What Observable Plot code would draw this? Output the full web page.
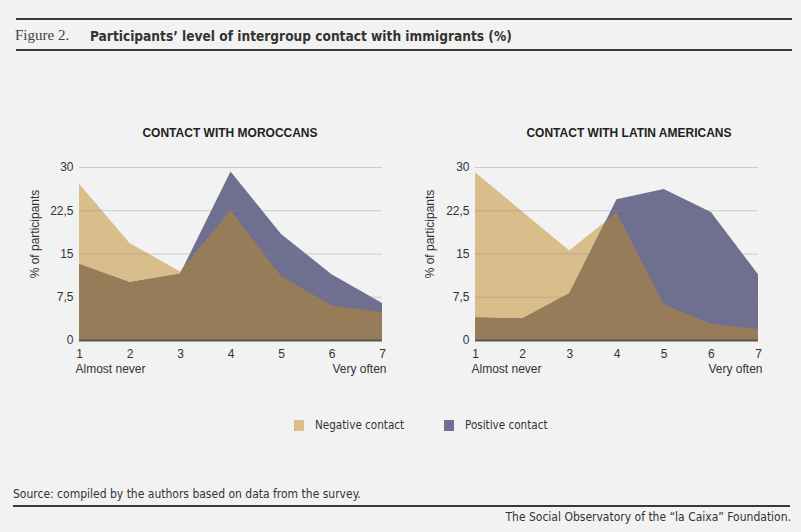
<!DOCTYPE html>
<html>
<head>
<meta charset="utf-8">
<script src="https://cdn.jsdelivr.net/npm/d3@7"></script>
<script src="https://cdn.jsdelivr.net/npm/@observablehq/plot@0.6"></script>
<style>
  html, body { margin: 0; padding: 0; background: #f2f2f2; }
  #wrap { position: relative; width: 801px; height: 532px; background: #f2f2f2; overflow: hidden; color: #333; }
  .abs { position: absolute; white-space: nowrap; }
  .narrow { font-family: "Liberation Sans Narrow", "DejaVu Sans Condensed", sans-serif; }
  .line { position: absolute; background: #3a3a3a; }
  .sub { font-family: "Liberation Sans", Arial, sans-serif; font-weight: bold; font-size: 12px; color: #222; transform: translateX(-50%); }
  .sw { position: absolute; width: 10px; height: 11px; }
</style>
</head>
<body>
<div id="wrap">
  <div class="line" style="left:16px; top:18px; width:776px; height:2px;"></div>
  <div class="abs" style="left:15px; top:27px; font-family:'Liberation Serif','DejaVu Serif',serif; font-size:15px; color:#444;">Figure 2.</div>
  <div class="abs narrow" style="left:90px; top:28px; font-size:13.6px; font-weight:bold; color:#333;">Participants’ level of intergroup contact with immigrants (%)</div>
  <div class="line" style="left:16px; top:49px; width:776px; height:2px;"></div>

  <div class="abs sub" style="left:230px; top:126px;">CONTACT WITH MOROCCANS</div>
  <div class="abs sub" style="left:629px; top:126px;">CONTACT WITH LATIN AMERICANS</div>

  <div id="c1" class="abs" style="left:0; top:150px;"></div>
  <div id="c2" class="abs" style="left:400px; top:150px;"></div>

  <div class="sw" style="left:294px; top:420px; background:#d9bd8a;"></div>
  <div class="abs narrow" style="left:315px; top:418px; font-size:11.6px; color:#333;">Negative contact</div>
  <div class="sw" style="left:444px; top:420px; background:#6f7090;"></div>
  <div class="abs narrow" style="left:465px; top:418px; font-size:11.6px; color:#333;">Positive contact</div>

  <div class="abs narrow" style="left:13px; top:487px; font-size:12px; color:#333;">Source: compiled by the authors based on data from the survey.</div>
  <div class="line" style="left:13px; top:505px; width:777px; height:2px;"></div>
  <div class="abs narrow" style="right:10px; top:510px; font-size:12px; color:#333;">The Social Observatory of the “la Caixa” Foundation.</div>
</div>
<script>
// ---- data ----
const levels = [1, 2, 3, 4, 5, 6, 7];
const yTicks = [0, 7.5, 15, 22.5, 30];
const moroccansNegative = [27.1, 16.8, 11.9, 22.5, 11.1, 6.0, 4.85];
const moroccansPositive = [13.2, 10.0, 11.5, 29.2, 18.4, 11.4, 6.4];
const latinNegative = [29.1, 22.3, 15.5, 22.1, 6.2, 2.8, 1.9];
const latinPositive = [3.9, 3.75, 8.1, 24.4, 26.2, 22.2, 11.4];
const endLabels = ["Almost never", "Very often"];
const yLabel = "% of participants";

const TAN = "#d9bd8a", PURPLE = "#6f7090", BROWN = "#977c59";

function makeChart(neg, pos, ml, mr, labelX, id) {
  const rows = levels.map((l, i) => ({level: l, neg: neg[i], pos: pos[i]}));
  const svg = Plot.plot({
    width: 400,
    height: 230,
    marginTop: 17,
    marginBottom: 40,
    marginLeft: ml,
    marginRight: mr,
    style: {background: "transparent", fontFamily: "'Liberation Sans', Arial, sans-serif", fontSize: "12px", color: "#333"},
    x: {domain: [1, 7], ticks: levels, tickSize: 0, tickPadding: 9, tickFormat: d => String(d), label: null},
    y: {domain: [0, 30], ticks: yTicks, tickSize: 0, tickPadding: 6,
        tickFormat: d => String(d).replace(".", ","), label: null},
    marks: [
      Plot.areaY(rows, {x: "level", y: "neg", fill: TAN}),
      Plot.areaY(rows, {x: "level", y: "pos", fill: PURPLE}),
      Plot.areaY(rows, {x: "level", y: "neg", fill: BROWN}),
      Plot.ruleY(yTicks.filter(d => d > 0), {stroke: "#888", strokeOpacity: 0.35}),
      Plot.ruleY([0], {stroke: "#555", strokeWidth: 2}),
      Plot.text([endLabels[0]], {x: levels[0], text: d => d, textAnchor: "start", frameAnchor: "bottom", dy: 32, dx: -4, fontSize: 12, fill: "#333"}),
      Plot.text([endLabels[1]], {x: levels[levels.length - 1], text: d => d, textAnchor: "end", frameAnchor: "bottom", dy: 32, dx: 4, fontSize: 12, fill: "#333"}),
      Plot.text([yLabel], {text: d => d, frameAnchor: "left", textAnchor: "middle", rotate: -90, dx: -(ml - labelX), dy: -20, fontSize: 12, fill: "#333"})
    ]
  });
  // clip the overlap (brown) to the positive area
  const areas = svg.querySelectorAll('g[aria-label="area"] path');
  const posPath = areas[1], overPath = areas[2];
  const ns = "http://www.w3.org/2000/svg";
  const defs = document.createElementNS(ns, "defs");
  const cp = document.createElementNS(ns, "clipPath");
  cp.setAttribute("id", id + "-clip");
  const p = document.createElementNS(ns, "path");
  p.setAttribute("d", posPath.getAttribute("d"));
  cp.appendChild(p);
  defs.appendChild(cp);
  svg.insertBefore(defs, svg.firstChild);
  overPath.setAttribute("clip-path", `url(#${id}-clip)`);
  return svg;
}

function build(neg, pos, ml, mr, labelX, id) {
  const svg = makeChart(neg, pos, ml, mr, labelX, id);
  document.getElementById(id).appendChild(svg);
}
build(moroccansNegative, moroccansPositive, 79, 18, 35, "c1");
build(latinNegative, latinPositive, 75, 42, 30, "c2");
</script>
</body>
</html>
